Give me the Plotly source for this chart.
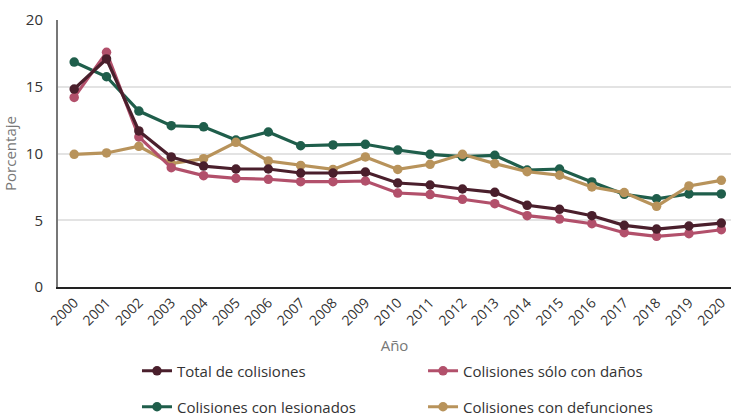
import plotly.graph_objects as go

years = list(range(2000, 2021))
total = [14.83, 17.08, 11.69, 9.74, 9.06, 8.84, 8.84, 8.54, 8.54, 8.61, 7.79, 7.64, 7.34, 7.09, 6.12, 5.82, 5.34, 4.62, 4.34, 4.57, 4.79]
danos = [14.2, 17.58, 11.24, 8.94, 8.34, 8.14, 8.07, 7.89, 7.89, 7.94, 7.04, 6.92, 6.57, 6.24, 5.34, 5.09, 4.74, 4.07, 3.8, 3.99, 4.29]
lesionados = [16.85, 15.75, 13.18, 12.08, 12.0, 11.01, 11.61, 10.58, 10.64, 10.69, 10.26, 9.94, 9.76, 9.86, 8.76, 8.84, 7.87, 6.94, 6.61, 6.97, 6.97]
defunciones = [9.94, 10.04, 10.54, 9.24, 9.61, 10.84, 9.44, 9.11, 8.81, 9.74, 8.81, 9.19, 9.94, 9.24, 8.64, 8.37, 7.49, 7.07, 6.04, 7.57, 7.99]

# name, values, colour, legend id, legend x (container), legend y (container)
series = [
    ("Colisiones con lesionados", lesionados, "#1f5e4b", "legend3", 0.1874, 0.0263),
    ("Colisiones con defunciones", defunciones, "#b8935b", "legend4", 0.5787, 0.0263),
    ("Colisiones sólo con daños", danos, "#b2506b", "legend2", 0.5787, 0.1124),
    ("Total de colisiones", total, "#4a1f2c", "legend", 0.1874, 0.1124),
]

FONT = "Open Sans"
fig = go.Figure()
legends = {}
for name, vals, col, lg, lx, ly in series:
    fig.add_trace(go.Scatter(
        x=years, y=vals, name=name, mode="lines+markers",
        line=dict(color=col, width=3.2), marker=dict(color=col, size=9.5),
        legend=lg,
    ))
    legends[lg] = dict(
        x=lx, y=ly, xref="container", yref="container",
        xanchor="left", yanchor="middle", orientation="h",
        font=dict(family=FONT, size=15, color="#333333"),
        bgcolor="rgba(0,0,0,0)", itemwidth=30,
    )

fig.update_layout(
    width=731, height=418,
    margin=dict(l=58, r=0, t=20, b=131),
    paper_bgcolor="white", plot_bgcolor="white",
    font=dict(family=FONT, size=13, color="#555555"),
    showlegend=True,
    **legends,
    xaxis=dict(
        range=[1999.5, 2020.3], tickmode="array", tickvals=years,
        ticktext=[str(y) for y in years], tickangle=-45,
        showgrid=False, showline=True, linecolor="#222222", linewidth=2,
        ticks="", tickfont=dict(family=FONT, size=14, color="#333333"),
        title=dict(text="Año", font=dict(family=FONT, size=15, color="#777777"), standoff=14),
        zeroline=False, automargin=False,
    ),
    yaxis=dict(
        range=[0, 20], tickvals=[0, 5, 10, 15, 20],
        showgrid=True, gridcolor="#e3e3e3", gridwidth=1.5,
        showline=True, linecolor="#777777", linewidth=2,
        ticks="", tickfont=dict(family=FONT, size=15, color="#333333"),
        ticklabelstandoff=10,
        title=dict(text="Porcentaje", font=dict(family=FONT, size=15, color="#777777"), standoff=7),
        zeroline=False, automargin=False,
    ),
)

fig.write_html(
    "out.html",
    config={"displayModeBar": False},
    post_script="document.body.style.margin='0';document.body.style.overflow='hidden';",
)
